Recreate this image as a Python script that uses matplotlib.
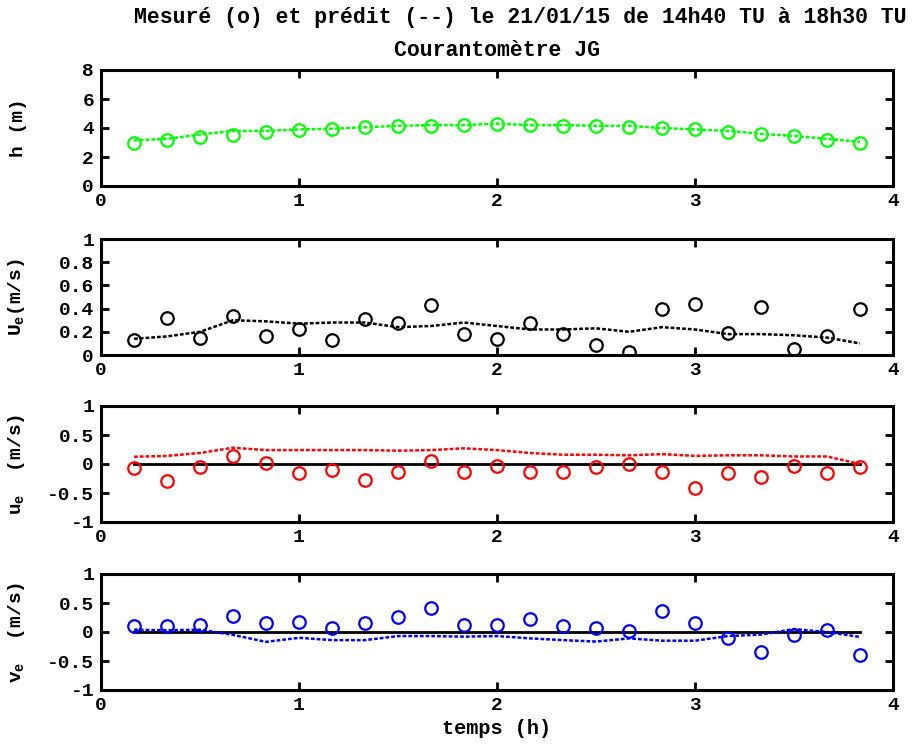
import matplotlib
matplotlib.use("Agg")
import matplotlib.pyplot as plt
import matplotlib.ticker as ticker

plt.rcParams['font.family'] = ['Liberation Mono', 'DejaVu Sans Mono']
plt.rcParams['font.weight'] = 'bold'
plt.rcParams['axes.unicode_minus'] = False
plt.rcParams['mathtext.fontset'] = 'custom'
plt.rcParams['mathtext.rm'] = 'Liberation Mono:bold'
plt.rcParams['mathtext.it'] = 'Liberation Mono:bold'

# temps (h) depuis 14h30 TU
t = [0.167, 0.333, 0.5, 0.667, 0.833, 1.0, 1.167, 1.333, 1.5, 1.667, 1.833, 2.0,
     2.167, 2.333, 2.5, 2.667, 2.833, 3.0, 3.167, 3.333, 3.5, 3.667, 3.833]

h_mes = [3.0, 3.15, 3.35, 3.55, 3.7, 3.85, 3.95, 4.05, 4.15, 4.15, 4.2, 4.25,
         4.2, 4.15, 4.15, 4.1, 4.0, 3.9, 3.75, 3.6, 3.45, 3.2, 3.0]
h_pred = [3.15, 3.25, 3.55, 3.8, 3.8, 3.9, 3.95, 4.05, 4.15, 4.2, 4.2, 4.3,
          4.2, 4.2, 4.15, 4.15, 4.0, 3.9, 3.8, 3.6, 3.45, 3.25, 3.05]

U_mes = [0.13, 0.32, 0.15, 0.34, 0.16, 0.22, 0.13, 0.31, 0.28, 0.43, 0.18, 0.14,
         0.28, 0.18, 0.09, 0.03, 0.40, 0.44, 0.19, 0.41, 0.05, 0.16, 0.40]
U_pred = [0.14, 0.16, 0.20, 0.30, 0.29, 0.27, 0.28, 0.28, 0.24, 0.25, 0.28, 0.25,
          0.22, 0.22, 0.23, 0.20, 0.24, 0.22, 0.18, 0.18, 0.17, 0.15, 0.10]

u_mes = [-0.07, -0.30, -0.05, 0.14, 0.02, -0.15, -0.11, -0.28, -0.14, 0.05, -0.13, -0.03,
         -0.14, -0.14, -0.05, 0.0, -0.14, -0.41, -0.16, -0.22, -0.03, -0.16, -0.06]
u_pred = [0.125, 0.14, 0.19, 0.28, 0.24, 0.24, 0.24, 0.24, 0.23, 0.24, 0.27, 0.24,
          0.19, 0.16, 0.16, 0.15, 0.17, 0.14, 0.15, 0.15, 0.13, 0.13, 0.0]

v_mes = [0.11, 0.11, 0.125, 0.28, 0.15, 0.165, 0.07, 0.15, 0.26, 0.41, 0.125, 0.125,
         0.23, 0.11, 0.07, 0.01, 0.36, 0.15, -0.11, -0.35, -0.06, 0.04, -0.39]
v_pred = [0.04, 0.03, 0.04, -0.05, -0.17, -0.10, -0.14, -0.14, -0.07, -0.07, -0.08, -0.07,
          -0.11, -0.14, -0.165, -0.11, -0.15, -0.15, -0.07, -0.045, 0.05, 0.0, -0.085]

fig = plt.figure(figsize=(9.18, 7.48), dpi=100)

L, W, H = 101 / 918, 792 / 918, 116 / 748
bottoms = [1 - 186 / 748, 1 - 355 / 748, 1 - 522 / 748, 1 - 690 / 748]

panels = [
    (h_mes, h_pred, (0, 1, 0), (0, 8), [0, 2, 4, 6, 8], 'h (m)', False),
    (U_mes, U_pred, 'k', (0, 1), [0, 0.2, 0.4, 0.6, 0.8, 1], r'U$_{\mathrm{e}}$(m/s)', False),
    (u_mes, u_pred, (1, 0, 0), (-1, 1), [-1, -0.5, 0, 0.5, 1], r'u$_{\mathrm{e}}$  (m/s)', True),
    (v_mes, v_pred, (0, 0, 1), (-1, 1), [-1, -0.5, 0, 0.5, 1], r'v$_{\mathrm{e}}$  (m/s)', True),
]

for i, (mes, pred, col, ylim, yt, lab, zero) in enumerate(panels):
    ax = fig.add_axes([L, bottoms[i], W, H])
    if zero:
        ax.plot([t[0], t[-1]], [0, 0], 'k-', lw=2)
    ax.plot(t, pred, color=col, lw=1.8, linestyle=(0, (1.5, 0.8)))
    ax.plot(t, mes, 'o', mfc='none', mec=col, ms=9, mew=1.6)
    ax.set_xlim(0, 4)
    ax.set_ylim(*ylim)
    ax.set_xticks([0, 1, 2, 3, 4])
    ax.set_yticks(yt)
    ax.yaxis.set_major_formatter(ticker.FormatStrFormatter('%g'))
    ax.tick_params(direction='in', length=6, width=2, top=True, right=True,
                   labelsize=14, pad=5)
    for s in ax.spines.values():
        s.set_linewidth(2.2)
    ax.set_ylabel(lab, fontsize=14, fontweight='bold')
    ax.yaxis.set_label_coords(-0.093, 0.5)
    if i == 3:
        ax.set_xlabel('temps (h)', fontsize=14.5, fontweight='bold')

fig.text(520 / 918, 1 - 18 / 748, 'Mesuré (o) et prédit (--) le 21/01/15 de 14h40 TU à 18h30 TU',
         ha='center', va='center', fontsize=15.5, fontweight='bold')
fig.text(497 / 918, 1 - 50 / 748, 'Courantomètre JG',
         ha='center', va='center', fontsize=15.5, fontweight='bold')

plt.savefig('out.png', dpi=100)
